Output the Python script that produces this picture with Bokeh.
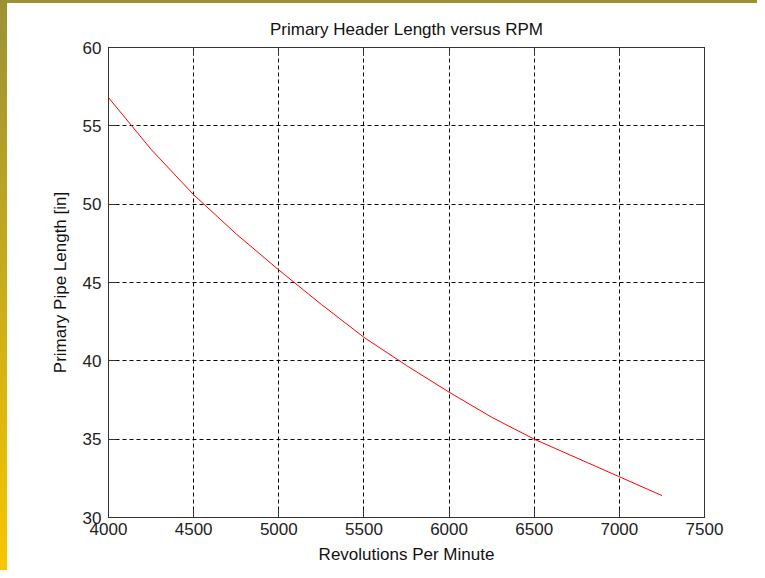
from bokeh.plotting import figure
from bokeh.models import LinearAxis, FixedTicker, Range1d
from bokeh.embed import file_html
from bokeh.resources import INLINE

rpm = [4000, 4250, 4500, 4750, 5000, 5250, 5500, 5750, 6000, 6250, 6500, 6750, 7000, 7250]
length_in = [56.8, 53.5, 50.6, 48.1, 45.8, 43.6, 41.5, 39.7, 38.0, 36.4, 35.0, 33.8, 32.6, 31.4]
x_ticks = [4000, 4500, 5000, 5500, 6000, 6500, 7000, 7500]
y_ticks = [30, 35, 40, 45, 50, 55, 60]

FONT = "Liberation Sans"

p = figure(width=757, height=570, output_backend="svg", toolbar_location=None,
           x_range=Range1d(4000, 7500), y_range=Range1d(30, 60),
           title="Primary Header Length versus RPM",
           min_border_left=108, min_border_right=53, min_border_top=47, min_border_bottom=53)

p.title.align = "center"
p.title.text_font = FONT
p.title.text_font_size = "17px"
p.title.text_font_style = "normal"
p.title.text_color = "#111111"
p.title.standoff = 18

p.line(rpm, length_in, line_color="#ff0000", line_width=1)

p.background_fill_color = "white"
p.border_fill_color = None
p.styles = {"background": "linear-gradient(to bottom, #9a9234, #f7c600) left top / 7px 100% no-repeat, "
                          "linear-gradient(#9a9234, #9a9234) left top / 100% 3px no-repeat, white"}
p.outline_line_color = "#333333"
p.outline_line_width = 1

for g, ticks in ((p.xgrid, x_ticks), (p.ygrid, y_ticks)):
    g.ticker = FixedTicker(ticks=ticks)
    g.grid_line_color = "black"
    g.grid_line_dash = "4 3"
    g.grid_line_width = 1

def style_axis(ax, ticks, labels=True):
    ax.ticker = FixedTicker(ticks=ticks)
    ax.axis_line_color = "#333333"
    ax.major_tick_line_color = "#333333"
    ax.major_tick_in = 8
    ax.major_tick_out = 0
    ax.minor_tick_in = 0
    ax.minor_tick_out = 0
    ax.major_label_text_font = FONT
    ax.major_label_text_font_size = "17px"
    ax.major_label_text_color = "#222222" if labels else None
    ax.axis_label_text_font = FONT
    ax.axis_label_text_font_size = "17px"
    ax.axis_label_text_font_style = "normal"
    ax.axis_label_text_color = "#111111"

style_axis(p.xaxis[0], x_ticks)
style_axis(p.yaxis[0], y_ticks)
p.xaxis[0].axis_label = "Revolutions Per Minute"
p.yaxis[0].axis_label = "Primary Pipe Length [in]"
p.xaxis[0].major_label_standoff = 5
p.yaxis[0].major_label_standoff = 7
p.xaxis[0].axis_label_standoff = 7
p.yaxis[0].axis_label_standoff = 10

top = LinearAxis()
right = LinearAxis()
style_axis(top, x_ticks, labels=False)
style_axis(right, y_ticks, labels=False)
top.major_label_text_font_size = "0px"
right.major_label_text_font_size = "0px"
p.add_layout(top, "above")
p.add_layout(right, "right")

html = file_html(p, INLINE, title="Primary Header Length versus RPM")
open("out.html", "w").write(html)
